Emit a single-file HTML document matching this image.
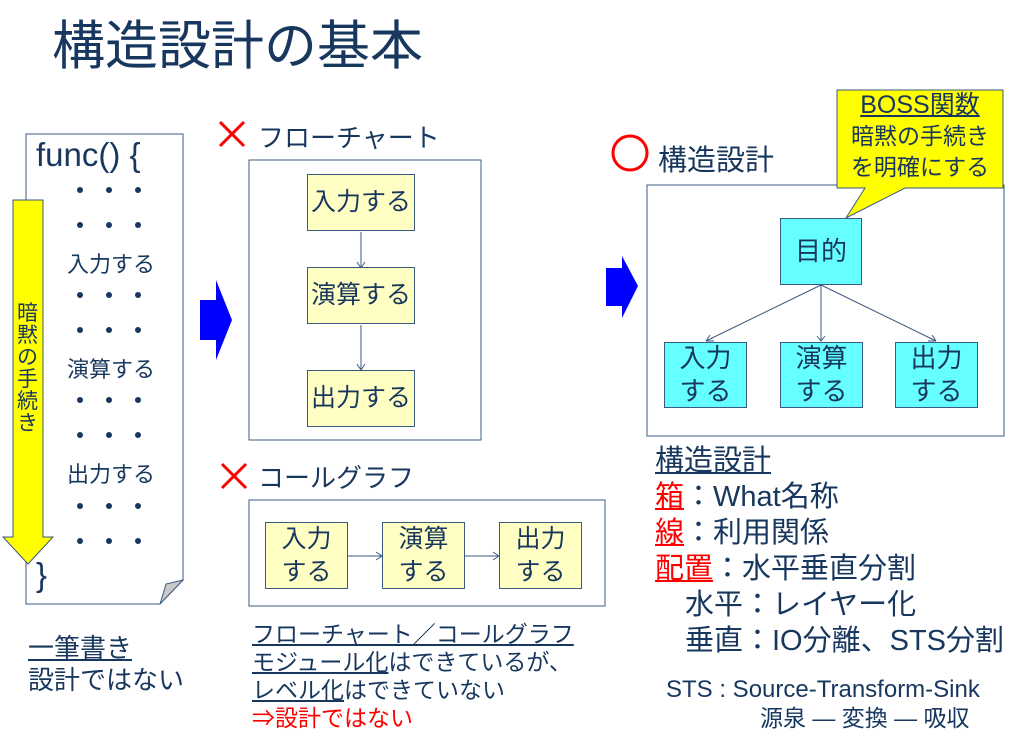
<!DOCTYPE html>
<html><head><meta charset="utf-8"><style>
body{margin:0;width:1024px;height:749px;background:#fff;position:relative;overflow:hidden;font-family:"Liberation Sans","Noto Sans CJK JP",sans-serif;color:#17375e}
.a{position:absolute;white-space:nowrap}
.y{position:absolute;background:#ffffc4;border:1px solid #3b5a80;box-sizing:border-box;display:flex;align-items:center;justify-content:center;text-align:center;font-size:25px;line-height:33px}
.c{position:absolute;background:#66ffff;border:1px solid #3b5a80;box-sizing:border-box;display:flex;align-items:center;justify-content:center;text-align:center;font-size:26px;line-height:33px}
.d{position:absolute;width:6px;height:6px;border-radius:3px;background:#17375e}
u{text-decoration:underline}
</style></head><body>
<div class="a" style="left:52px;top:4px;font-size:53px">構造設計の基本</div>

<svg class="a" style="left:0;top:0" width="1024" height="749">
<path d="M26 134H183V580L160 604H26Z" fill="#fff" stroke="#3b5a80"/>
<path d="M160 604L166 584L183 580Z" fill="#c8c8c8" stroke="#3b5a80"/>
<path d="M13 200H43V537H53L28 564L3 537H13Z" fill="#ffff00" stroke="#3b5a80"/>
<path d="M200 300H216V280L232 320L216 360V340H200Z" fill="#0000ff"/>
<path d="M606 268H622V256L638 286L622 318V306H606Z" fill="#0000ff"/>
<path d="M220 122L244 146M244 122L220 146" stroke="#f00" stroke-width="3"/>
<path d="M222 464L246 488M246 464L222 488" stroke="#f00" stroke-width="3"/>
<circle cx="630" cy="153" r="17" fill="none" stroke="#f00" stroke-width="3"/>
<rect x="249" y="160" width="232" height="280" fill="#fff" stroke="#3b5a80"/>
<rect x="249" y="500" width="356" height="106" fill="#fff" stroke="#3b5a80"/>
<rect x="647" y="185" width="357" height="251" fill="#fff" stroke="#3b5a80"/>
<g stroke="#3b5a80" fill="none">
<path d="M361 232V268M357 262L361 268L365 262"/>
<path d="M361 325V370M357 364L361 370L365 364"/>
<path d="M348 556H382M376 552L382 556L376 560"/>
<path d="M465 556H499M493 552L499 556L493 560"/>
<path d="M821 285L706 341M821 285V341M821 285L936 341"/>
<path d="M817 336L821 341L825 336M706 341L714 341M706 341L710 335M936 341L928 341M936 341L932 335"/>
</g>
<path d="M837 90H1003V188H905L846 218L865 188H837Z" fill="#ffff00" stroke="#3b5a80"/>
</svg>

<div class="a" style="left:36px;top:136px;font-size:33px">func() {</div>
<div class="d" style="left:77px;top:187px"></div><div class="d" style="left:106px;top:187px"></div><div class="d" style="left:135px;top:187px"></div>
<div class="d" style="left:77px;top:222px"></div><div class="d" style="left:106px;top:222px"></div><div class="d" style="left:135px;top:222px"></div>
<div class="a" style="left:67px;top:247px;font-size:22px">入力する</div>
<div class="d" style="left:77px;top:292px"></div><div class="d" style="left:106px;top:292px"></div><div class="d" style="left:135px;top:292px"></div>
<div class="d" style="left:77px;top:327px"></div><div class="d" style="left:106px;top:327px"></div><div class="d" style="left:135px;top:327px"></div>
<div class="a" style="left:67px;top:352px;font-size:22px">演算する</div>
<div class="d" style="left:77px;top:397px"></div><div class="d" style="left:106px;top:397px"></div><div class="d" style="left:135px;top:397px"></div>
<div class="d" style="left:77px;top:432px"></div><div class="d" style="left:106px;top:432px"></div><div class="d" style="left:135px;top:432px"></div>
<div class="a" style="left:67px;top:457px;font-size:22px">出力する</div>
<div class="d" style="left:77px;top:503px"></div><div class="d" style="left:106px;top:503px"></div><div class="d" style="left:135px;top:503px"></div>
<div class="d" style="left:77px;top:538px"></div><div class="d" style="left:106px;top:538px"></div><div class="d" style="left:135px;top:538px"></div>
<div class="a" style="left:36px;top:556px;font-size:33px">}</div>
<div class="a" style="left:17px;top:303px;font-size:21px;width:22px;line-height:22px;white-space:normal">暗黙の手続き</div>

<div class="a" style="left:28px;top:632px;font-size:26px;line-height:32px"><u>一筆書き</u><br>設計ではない</div>

<div class="a" style="left:258px;top:118px;font-size:26px">フローチャート</div>
<div class="y" style="left:307px;top:174px;width:108px;height:57px">入力する</div>
<div class="y" style="left:307px;top:267px;width:108px;height:57px">演算する</div>
<div class="y" style="left:307px;top:370px;width:108px;height:57px">出力する</div>

<div class="a" style="left:258px;top:458px;font-size:26px">コールグラフ</div>
<div class="y" style="left:265px;top:522px;width:83px;height:67px">入力<br>する</div>
<div class="y" style="left:382px;top:522px;width:83px;height:67px">演算<br>する</div>
<div class="y" style="left:499px;top:522px;width:83px;height:67px">出力<br>する</div>

<div class="a" style="left:252px;top:620px;font-size:23px;line-height:28px"><u>フローチャート／コールグラフ</u><br><u>モジュール化</u>はできているが、<br><u>レベル化</u>はできていない<br><span style="color:#f00">⇒設計ではない</span></div>

<div class="a" style="left:658px;top:137px;font-size:29px">構造設計</div>
<div class="a" style="left:837px;top:90px;width:166px;text-align:center;font-size:25px;line-height:31px"><u>BOSS関数</u><br><span style="font-size:23px">暗黙の手続き<br>を明確にする</span></div>
<div class="c" style="left:780px;top:218px;width:82px;height:67px">目的</div>
<div class="c" style="left:664px;top:342px;width:83px;height:66px">入力<br>する</div>
<div class="c" style="left:780px;top:342px;width:83px;height:66px">演算<br>する</div>
<div class="c" style="left:895px;top:342px;width:83px;height:66px">出力<br>する</div>

<div class="a" style="left:655px;top:443px;font-size:29px;line-height:36px"><u>構造設計</u><br><u style="color:#f00">箱</u>：What名称<br><u style="color:#f00">線</u>：利用関係<br><u style="color:#f00">配置</u>：水平垂直分割</div>
<div class="a" style="left:685px;top:587px;font-size:29px;line-height:36px">水平：レイヤー化<br>垂直：IO分離、STS分割</div>
<div class="a" style="left:666px;top:676px;font-size:24px;line-height:28px">STS : Source-Transform-Sink</div>
<div class="a" style="left:760px;top:704px;font-size:23px;line-height:28px">源泉 ― 変換 ― 吸収</div>
</body></html>
